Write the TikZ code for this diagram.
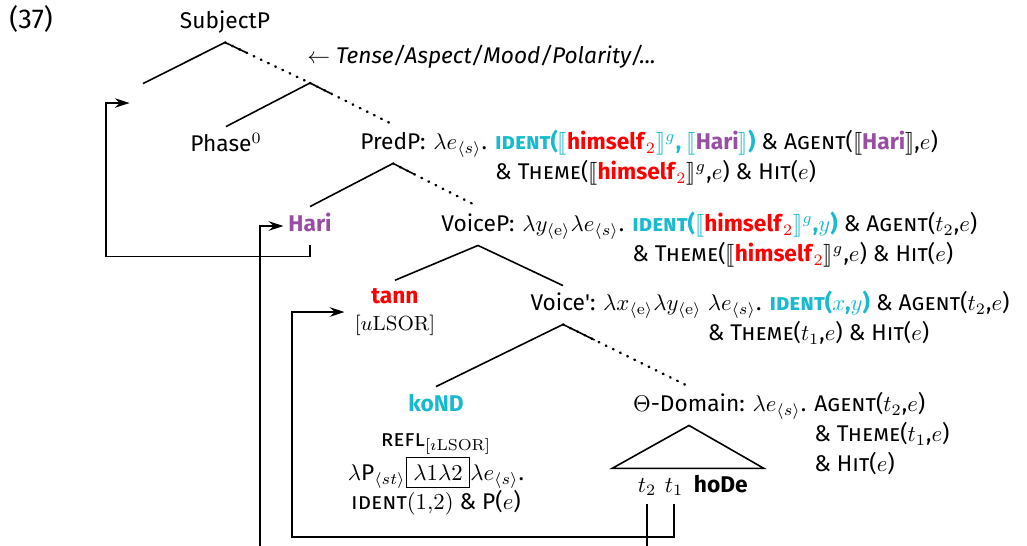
\documentclass[tikz,border=0pt]{standalone}
\usepackage[no-math]{fontspec}
\setmainfont{Fira Sans}
\usepackage{stmaryrd}
\usetikzlibrary{positioning,arrows.meta,calc}

\definecolor{identc}{RGB}{23,186,206}
\definecolor{himc}{RGB}{255,0,0}
\definecolor{haric}{RGB}{152,78,163}
\newcommand{\idc}[1]{\textcolor{identc}{\textbf{#1}}}
\newcommand{\him}{\textcolor{himc}{\textbf{himself}$_2$}}
\newcommand{\hari}{\textcolor{haric}{\textbf{Hari}}}
\renewcommand{\arraystretch}{1.1}

\begin{document}
\begin{tikzpicture}[x=0.44pt, y=-0.44pt,
    cat/.style={text height=7pt, text depth=2pt, minimum height=16.7pt, inner xsep=2pt, inner ysep=0pt},
    sem/.style={anchor=base west, inner sep=0pt, xshift=1pt},
    branch/.style={line width=0.7pt},
    proj/.style={line width=1.1pt, line cap=round, dash pattern=on 0.3pt off 3.2pt},
    move/.style={line width=0.7pt, -{Stealth[length=6.5pt,width=4.2pt,inset=2.2pt]}}]
    \clip (0,0) rectangle (1027,545);

    \node[anchor=base west, inner sep=0pt, font=\large] at (9,28) (exno) {(37)};
    \node[cat] at (225,23) (subjp) {SubjectP};
    \node[cat, minimum width=11.4pt, inner xsep=0pt] at (143,103) (spec) {};
    \coordinate (tp) at (310,83);
    \node[anchor=base west, inner sep=0pt] at (307,63) (tam) {$\leftarrow$ \textit{Tense/Aspect/Mood/Polarity/...}};
    \node[cat] at (226,146) (phase) {Phase$^0$};
    \node[cat] at (393,144) (predp) {PredP:};
    \node[cat] at (310,226) (hari) {\hari};
    \node[cat] at (478,226) (voicep) {VoiceP:};
    \node[align=center] at (395,312) (tann) {\textcolor{himc}{\textbf{tann}}\\{\small$[u\mathrm{LSOR}]$}};
    \node[cat] at (563,305) (voicebar) {Voice\textquotesingle:};
    \node[cat] at (436,406) (kond) {\textcolor{identc}{\textbf{koND}}};
    \node[cat] at (689,406) (theta) {$\Theta$-Domain:};
    \node at (647,487) (t2) {$t_2$};
    \node at (674,487) (t1) {$t_1$};
    \node[anchor=base west, inner xsep=1pt] at (t1.base east) (hode) {\textbf{hoDe}};

    % semantics
    \node[sem] at (predp.base east) (predp-sem) {\begin{tabular}[t]{@{}l@{ }l@{}}
        $\lambda e_{\langle s\rangle}$. & \idc{\textsc{ident}($\llbracket$\him$\rrbracket^g$, $\llbracket$\hari$\rrbracket$)} \& \textsc{Agent}($\llbracket$\hari$\rrbracket$,$e$)\\
        & \& \textsc{Theme}($\llbracket$\him$\rrbracket^g$,$e$) \& \textsc{Hit}($e$)
    \end{tabular}};
    \node[sem] at (voicep.base east) (voicep-sem) {\begin{tabular}[t]{@{}l@{ }l@{}}
        $\lambda y_{\langle\mathrm{e}\rangle}\lambda e_{\langle s\rangle}$. & \idc{\textsc{ident}($\llbracket$\him$\rrbracket^g$,$y$)} \& \textsc{Agent}($t_2$,$e$)\\
        & \& \textsc{Theme}($\llbracket$\him$\rrbracket^g$,$e$) \& \textsc{Hit}($e$)
    \end{tabular}};
    \node[sem] at (voicebar.base east) (voicebar-sem) {\begin{tabular}[t]{@{}l@{ }l@{}}
        $\lambda x_{\langle\mathrm{e}\rangle}\lambda y_{\langle\mathrm{e}\rangle}$ & $\lambda e_{\langle s\rangle}$. \idc{\textsc{ident}($x$,$y$)} \& \textsc{Agent}($t_2$,$e$)\\
        & \& \textsc{Theme}($t_1$,$e$) \& \textsc{Hit}($e$)
    \end{tabular}};
    \node[sem] at (theta.base east) (theta-sem) {\begin{tabular}[t]{@{}l@{ }l@{}}
        $\lambda e_{\langle s\rangle}$. & \textsc{Agent}($t_2$,$e$)\\
        & \& \textsc{Theme}($t_1$,$e$)\\
        & \& \textsc{Hit}($e$)
    \end{tabular}};
    \node[align=center, below=0pt of kond] (kond-sem) {\textsc{refl}$_{[\imath\mathrm{LSOR}]}$\\
        $\lambda$P$_{\langle st\rangle}$\fbox{$\lambda1\lambda2$}$\lambda e_{\langle s\rangle}$.\\
        \textsc{ident}$(1{,}2)$ \& P($e$)};

    % tree
    \draw[branch] (subjp.south) -- (spec.north);
    \draw[branch] (subjp.south) -- ($(subjp.south)!.25!(tp)$);
    \draw[proj] (subjp.south) -- (tp);
    \draw[branch] (tp) -- (phase.north);
    \draw[branch] (tp) -- ($(tp)!.25!(predp.north)$);
    \draw[proj] (tp) -- (predp.north);
    \draw[branch] (predp.south) -- (hari.north);
    \draw[branch] (predp.south) -- ($(predp.south)!.25!(voicep.north)$);
    \draw[proj] (predp.south) -- (voicep.north);
    \draw[branch] (voicep.south) -- (tann.north);
    \draw[branch] (voicep.south) -- (voicebar.north);
    \draw[branch] (voicebar.south) -- (kond.north);
    \draw[branch] (voicebar.south) -- ($(voicebar.south)!.25!(theta.north)$);
    \draw[proj] (voicebar.south) -- (theta.north);
    \draw[branch] (theta.south) -- ++(-77,43) -- ++(152,0) -- cycle;

    % movement
    \draw[move] (hari.south) -- ++(0,11) -- ++(-204,0) |- (spec.west);
    \draw[move] (t1.south) -- ++(0,33) -- ++(-382,0) |- ([xshift=-1pt]tann.west);
    \draw[move] (t2.south) -- ++(0,80) -- ++(-387,0) |- (hari.west);
\end{tikzpicture}
\end{document}
